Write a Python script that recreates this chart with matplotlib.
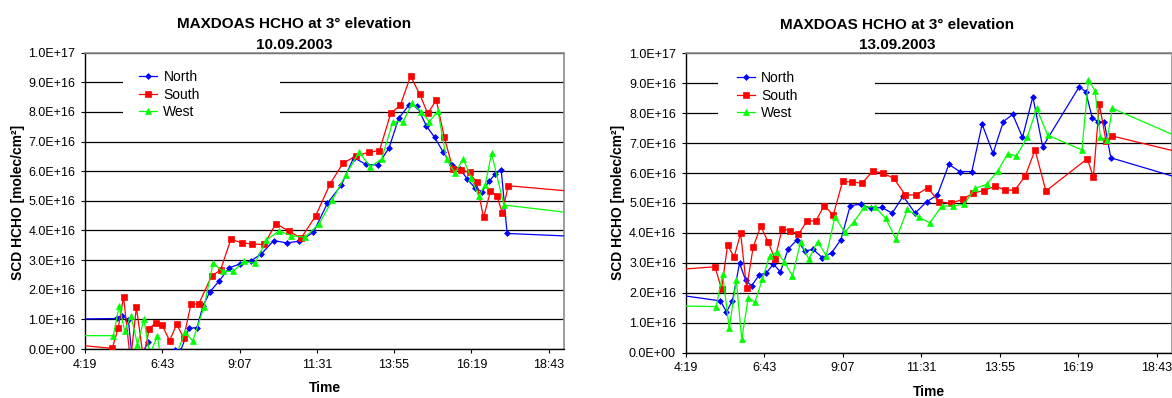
import matplotlib
matplotlib.use("Agg")
import matplotlib.pyplot as plt
from matplotlib.patches import Rectangle
from matplotlib.ticker import FixedLocator, FuncFormatter

plt.rcParams['font.family'] = ['Liberation Sans', 'DejaVu Sans']

# slant column densities in 1E16 molec/cm2, times in local time

# 10.09.2003
n10_time = ["3:23", "5:18", "5:29", "5:40", "5:54", "6:05", "6:16", "6:26", "6:37", "6:48",
            "6:57", "7:07", "7:17", "7:33", "7:48", "7:59", "8:12", "8:29", "8:48", "9:08",
            "9:28", "9:48", "10:11", "10:35", "10:59", "11:25", "11:51", "12:17", "12:40", "13:03",
            "13:25", "13:46", "14:04", "14:23", "14:38", "14:55", "15:11", "15:27", "15:43", "15:58",
            "16:12", "16:27", "16:39", "16:53", "17:04", "17:15", "17:26", "19:59"]
n10_scd = [1.00, 1.03, 1.12, 0.98, -1.5, -0.2, 0.22, -0.8, -1.5, -1.2,
           -0.5, -0.05, -0.08, 0.70, 0.72, 1.45, 1.93, 2.29, 2.74, 2.87,
           2.97, 3.21, 3.66, 3.58, 3.64, 3.94, 4.92, 5.53, 6.46, 6.23,
           6.21, 6.79, 7.79, 8.23, 8.21, 7.54, 7.14, 6.64, 6.20, 6.08,
           5.73, 5.42, 5.31, 5.67, 5.91, 6.04, 3.90, 3.78]

s10_time = ["3:23", "5:10", "5:21", "5:31", "5:44", "5:55", "6:08", "6:19", "6:31", "6:43",
            "6:57", "7:10", "7:23", "7:37", "7:51", "8:15", "8:32", "8:51", "9:11", "9:31",
            "9:53", "10:15", "10:39", "11:02", "11:29", "11:56", "12:20", "12:44", "13:08", "13:28",
            "13:49", "14:07", "14:26", "14:43", "14:58", "15:14", "15:29", "15:45", "16:00", "16:16",
            "16:29", "16:42", "16:55", "17:07", "17:17", "17:28", "19:59"]
s10_scd = [0.21, 0.02, 0.70, 1.76, -0.4, 1.41, -0.3, 0.69, 0.89, 0.80,
           0.28, 0.84, 0.38, 1.53, 1.51, 2.46, 2.67, 3.70, 3.59, 3.54,
           3.53, 4.23, 3.98, 3.74, 4.49, 5.57, 6.27, 6.51, 6.64, 6.69,
           7.95, 8.23, 9.21, 8.60, 7.95, 8.40, 7.14, 6.07, 6.05, 5.96,
           5.62, 4.44, 5.33, 5.16, 4.60, 5.51, 5.27]

w10_time = ["3:23", "5:12", "5:23", "5:33", "5:45", "5:57", "6:09", "6:20", "6:34", "6:45",
            "6:57", "7:10", "7:25", "7:40", "8:01", "8:18", "8:36", "8:55", "9:16", "9:36",
            "9:57", "10:21", "10:44", "11:09", "11:35", "12:00", "12:25", "12:50", "13:11", "13:32",
            "13:53", "14:12", "14:29", "14:46", "15:01", "15:17", "15:33", "15:49", "16:04", "16:19",
            "16:33", "16:45", "16:57", "17:20", "19:59"]
w10_scd = [0.45, 0.45, 1.46, 0.61, 1.12, 0.15, 1.00, -0.2, 0.44, -0.8,
           -1.0, -0.2, 0.57, 0.27, 1.42, 2.90, 2.62, 2.62, 2.96, 2.89,
           3.67, 3.99, 3.82, 3.77, 4.21, 5.02, 5.87, 6.64, 6.15, 6.41,
           7.67, 7.67, 8.29, 8.01, 7.67, 8.03, 6.40, 5.93, 6.42, 5.77,
           5.16, 5.53, 6.60, 4.86, 4.52]

# 13.09.2003
n13_time = ["3:14", "5:23", "5:34", "5:45", "5:58", "6:09", "6:20", "6:34", "6:47", "7:00",
            "7:13", "7:27", "7:43", "7:58", "8:13", "8:30", "8:47", "9:04", "9:21", "9:40",
            "9:59", "10:19", "10:38", "10:58", "11:20", "11:41", "12:01", "12:22", "12:42", "13:04",
            "13:23", "13:43", "14:02", "14:19", "14:37", "14:56", "15:14", "16:21", "16:33", "16:45",
            "16:56", "17:07", "17:19", "20:00"]
n13_scd = [2.06, 1.73, 1.36, 1.74, 2.99, 2.43, 2.23, 2.60, 2.66, 2.96,
           2.70, 3.46, 3.76, 3.40, 3.45, 3.17, 3.34, 3.78, 4.91, 4.96,
           4.82, 4.85, 4.66, 5.23, 4.66, 5.04, 5.27, 6.29, 6.05, 6.05,
           7.63, 6.66, 7.72, 7.96, 7.19, 8.55, 6.88, 8.88, 8.72, 7.83,
           7.72, 7.70, 6.51, 5.64]

s13_time = ["3:14", "5:13", "5:25", "5:36", "5:48", "6:00", "6:11", "6:23", "6:37", "6:50",
            "7:03", "7:16", "7:31", "7:46", "8:02", "8:18", "8:33", "8:50", "9:07", "9:25",
            "9:43", "10:02", "10:22", "10:41", "11:02", "11:22", "11:43", "12:04", "12:25", "12:47",
            "13:07", "13:26", "13:47", "14:05", "14:23", "14:42", "15:00", "15:20", "16:36", "16:47",
            "16:58", "17:10", "17:21", "20:00"]
s13_scd = [2.71, 2.87, 2.12, 3.59, 3.19, 3.99, 2.15, 3.53, 4.23, 3.71,
           3.13, 4.14, 4.07, 3.95, 4.41, 4.40, 4.91, 4.60, 5.72, 5.70,
           5.66, 6.07, 5.99, 5.82, 5.27, 5.27, 5.51, 5.04, 4.99, 5.12,
           5.34, 5.41, 5.57, 5.43, 5.43, 5.90, 6.77, 5.40, 6.48, 5.86,
           8.31, 7.08, 7.24, 6.54]

w13_time = ["3:14", "5:15", "5:27", "5:39", "5:52", "6:02", "6:14", "6:26", "6:40", "6:53",
            "7:06", "7:20", "7:35", "7:50", "8:05", "8:21", "8:37", "8:53", "9:11", "9:28",
            "9:47", "10:06", "10:26", "10:45", "11:06", "11:27", "11:47", "12:09", "12:29", "12:50",
            "13:10", "13:31", "13:52", "14:10", "14:26", "14:46", "15:03", "15:23", "16:26", "16:38",
            "16:50", "17:00", "17:12", "17:22", "20:00"]
w13_scd = [1.58, 1.54, 2.62, 0.81, 2.43, 0.45, 1.84, 1.68, 2.46, 3.23,
           3.35, 3.04, 2.56, 3.71, 3.12, 3.71, 3.24, 4.54, 4.02, 4.38,
           4.86, 4.88, 4.49, 3.79, 4.79, 4.52, 4.34, 4.90, 4.90, 4.96,
           5.49, 5.62, 6.08, 6.65, 6.57, 7.21, 8.16, 7.27, 6.77, 9.11,
           8.75, 7.19, 7.10, 8.16, 6.91]

series_names = ["North", "South", "West"]
series_colors = ["#0000FF", "#FF0000", "#00FF00"]
series_markers = ["D", "s", "^"]
marker_sizes = [3.0, 4.2, 4.6]

x_ticks = [0.18, 0.28, 0.38, 0.48, 0.58, 0.68, 0.78]   # fraction of day
y_ticks = [0, 1e16, 2e16, 3e16, 4e16, 5e16, 6e16, 7e16, 8e16, 9e16, 1e17]


def day_fraction(t):
    h, m = t.split(":")
    return (int(h) * 60 + int(m)) / 1440.0


def fmt_time(v, pos=None):
    minutes = int(v * 1440 + 1e-6)
    return f"{minutes // 60}:{minutes % 60:02d}"


def fmt_sci(v, pos=None):
    return f"{v:.1E}"


W, H = 1172, 398
fig = plt.figure(figsize=(W / 100, H / 100), dpi=100)


def panel(box, data, legend_box, legend_anchor, title_x, title_y, date, ylab_x, time_x, time_y):
    x0, x1, ytop, ybot = box
    ax = fig.add_axes([x0 / W, 1 - ybot / H, (x1 - x0) / W, (ybot - ytop) / H])
    for (times, vals), name, col, mk, ms in zip(data, series_names, series_colors,
                                                 series_markers, marker_sizes):
        ax.plot([day_fraction(t) for t in times], [v * 1e16 for v in vals],
                color=col, marker=mk, markersize=ms, linewidth=0.9,
                markeredgewidth=0.5, label=name, zorder=3)
    ax.set_xlim(0.18, 0.8)
    ax.set_ylim(0, 1e17)
    ax.xaxis.set_major_locator(FixedLocator(x_ticks))
    ax.xaxis.set_major_formatter(FuncFormatter(fmt_time))
    ax.yaxis.set_major_locator(FixedLocator(y_ticks))
    ax.yaxis.set_major_formatter(FuncFormatter(fmt_sci))
    ax.tick_params(axis="both", direction="out", length=3, width=0.8,
                   labelsize=9, pad=4, color="black")
    ax.set_axisbelow(True)
    ax.yaxis.grid(True, color="black", linewidth=0.9)
    for side in ("left", "bottom"):
        ax.spines[side].set_color("black")
        ax.spines[side].set_linewidth(1.0)
    for side in ("top", "right"):
        ax.spines[side].set_color("#8c8c8c")
        ax.spines[side].set_linewidth(1.2)
    # white legend area hiding the gridlines
    ax.add_patch(Rectangle((legend_box[0], legend_box[1]), legend_box[2], legend_box[3],
                           transform=ax.transAxes, facecolor="white",
                           edgecolor="none", zorder=1))
    ax.legend(loc="upper left", bbox_to_anchor=legend_anchor, frameon=False,
              fontsize=10, borderpad=0, borderaxespad=0, handlelength=1.3,
              handletextpad=0.45, labelspacing=0.24)

    fig.text(title_x / W, 1 - title_y[0] / H, "MAXDOAS HCHO at 3° elevation",
             ha="center", va="baseline", fontsize=11, fontweight="bold")
    fig.text(title_x / W, 1 - title_y[1] / H, date,
             ha="center", va="baseline", fontsize=11, fontweight="bold")
    fig.text(ylab_x / W, 1 - 202 / H, "SCD HCHO [molec/cm²]", rotation=90,
             ha="center", va="center", fontsize=10, fontweight="bold")
    fig.text(time_x / W, 1 - time_y / H, "Time",
             ha="center", va="baseline", fontsize=10, fontweight="bold")
    return ax


panel((85, 564, 52.7, 349),
      [(n10_time, n10_scd), (s10_time, s10_scd), (w10_time, w10_scd)],
      (0.079, 0.756, 0.328, 0.2), (0.113, 0.941),
      294, (27.7, 49), "10.09.2003", 18, 325, 392.5)

panel((685.7, 1172.4, 53.3, 352.7),
      [(n13_time, n13_scd), (s13_time, s13_scd), (w13_time, w13_scd)],
      (0.066, 0.756, 0.323, 0.2), (0.105, 0.940),
      897, (29.3, 49.3), "13.09.2003", 618, 928.7, 396.5)

fig.savefig("out.png", dpi=100)
